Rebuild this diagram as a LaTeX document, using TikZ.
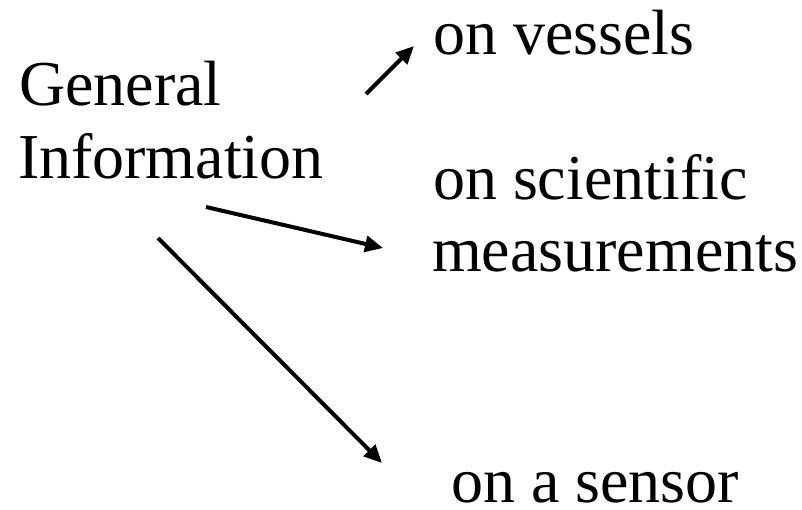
\documentclass[tikz,border=0pt]{standalone}
\usepackage{fontspec}
\setmainfont{Liberation Serif}
\usetikzlibrary{arrows.meta}
\begin{document}
\begin{tikzpicture}[x=1pt,y=-1pt,
  lbl/.style={anchor=base west,inner sep=0pt,outer sep=0pt,font=\fontsize{64}{75}\selectfont},
  arr/.style={line width=4pt,-{Triangle[length=18pt,width=16pt]}}]
\useasboundingbox (0,0) rectangle (802,510);
\node[lbl] (gen1) at (19,106) {General};
\node[lbl] (gen2) at (18,179) {Information};
\node[lbl] (ves) at (433,55) {on vessels};
\node[lbl] (sci1) at (433,200) {on scientific};
\node[lbl] (sci2) at (432,272) {measurements};
\node[lbl] (sen) at (451,502) {on a sensor};
\coordinate (a1s) at (366,94);
\coordinate (a1e) at (414,46);
\coordinate (a2s) at (206,207);
\coordinate (a2e) at (383,248);
\coordinate (a3s) at (158,238);
\coordinate (a3e) at (382,463);
\draw[arr] (a1s) -- (a1e);
\draw[arr] (a2s) -- (a2e);
\draw[arr] (a3s) -- (a3e);
\end{tikzpicture}
\end{document}
